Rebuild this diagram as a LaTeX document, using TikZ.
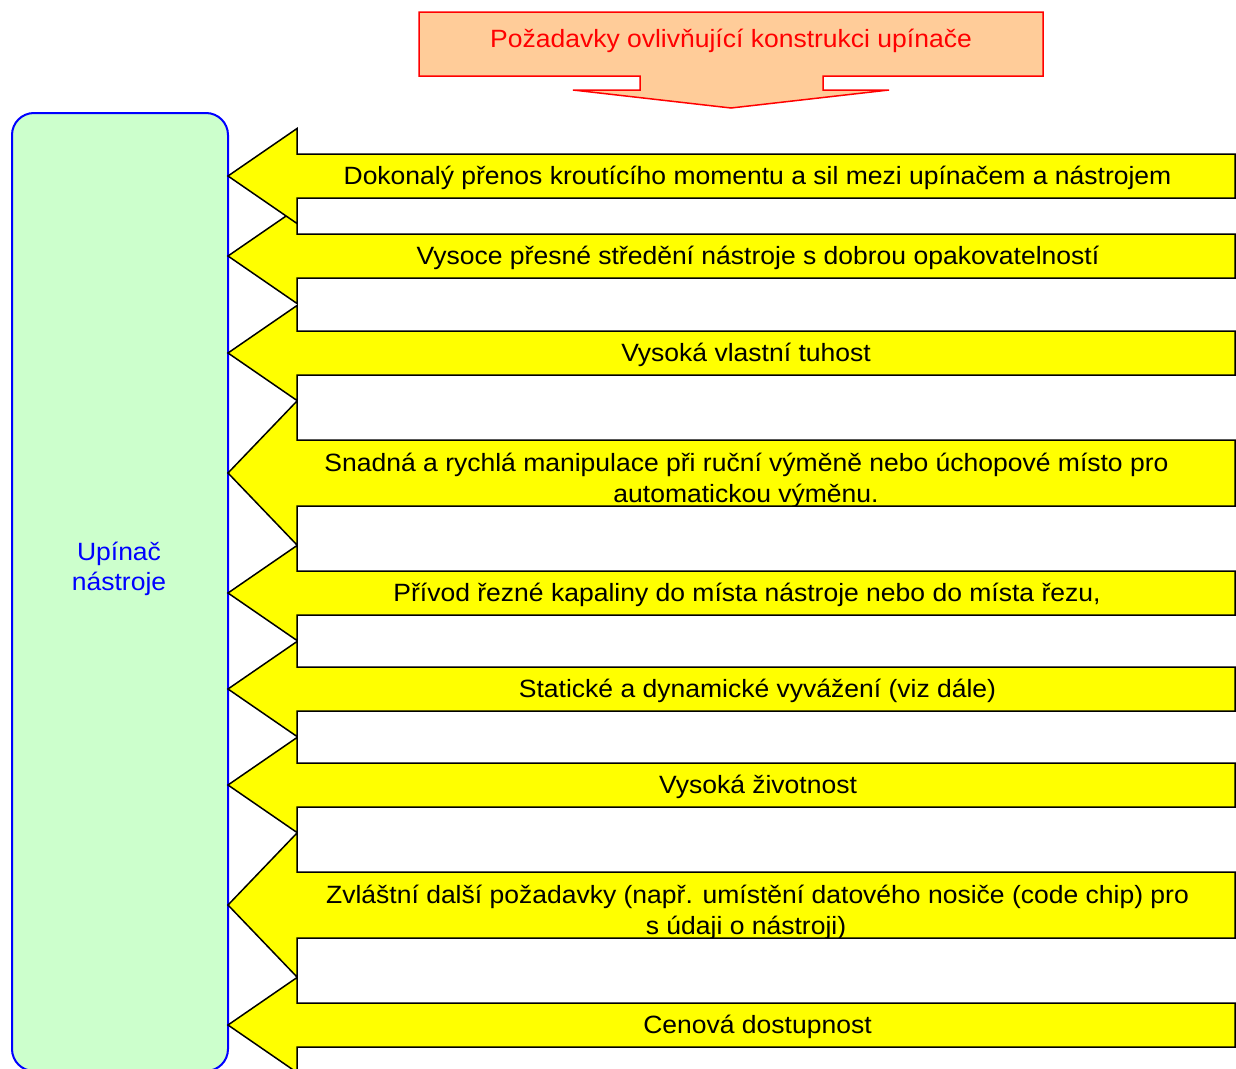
\documentclass[tikz,border=0pt]{standalone}
\usepackage{fontspec}
\setmainfont[FakeStretch=1.06]{Liberation Sans}
\definecolor{boxgreen}{HTML}{CCFFCC}
\definecolor{boxorange}{HTML}{FFCC99}
\definecolor{arrowyellow}{HTML}{FFFF00}
\begin{document}
\begin{tikzpicture}[x=1pt,y=-1pt,line join=miter]
\tikzset{
  blockarrow/.style={draw=black,fill=arrowyellow,line width=1.5pt},
  lbl/.style={font=\fontsize{25}{31}\selectfont,text=black,inner sep=0pt,anchor=base},
}
\useasboundingbox (0,0) rectangle (1236,1068);
\clip (0,0) rectangle (1236,1068);
\fill[white] (0,0) rectangle (1236,1068);

% top requirement arrow
\draw[draw=red,fill=boxorange,line width=1.5pt] (419,12) -- (1043,12) -- (1043,76) -- (823,76) -- (823,90) -- (889,90) -- (731,108) -- (573,90) -- (640,90) -- (640,76) -- (419,76) -- cycle;
\node[lbl,text=red] (req) at (731,47) {Požadavky ovlivňující konstrukci upínače};

% tool holder box
\node[draw=blue,fill=boxgreen,line width=2pt,rounded corners=22pt,minimum width=216pt,minimum height=958pt,anchor=north west,inner sep=0pt] (holder) at (11,112) {};
\node[font=\fontsize{25}{30}\selectfont,text=blue,align=center,inner sep=0pt] (holdertxt) at (119,568.5) {Upínač\\nástroje};

% block arrows (bottom first, so upper ones lie on top)
\foreach \c/\s/\h [count=\i] in {1025/22/47.5, 905/33/72, 785/22/47.5, 689/22/47.5, 593/22/47.5, 473/33/72, 353/22/47.5, 256/22/47.5, 176/22/47.5}{
  \draw[blockarrow] (1235,\c-\s) -- (297,\c-\s) -- (297,\c-\h) -- (228,\c) -- (297,\c+\h) -- (297,\c+\s) -- (1235,\c+\s) -- cycle;
}

\begin{scope}
\clip (297,1004) rectangle (1234,1046);
\node[lbl] (t9) at (757.5,1033.5) {Cenová dostupnost};
\end{scope}
\begin{scope}
\clip (297,873) rectangle (1234,937);
\node[lbl] (t8a) at (757.5,903.5) {Zvláštní další požadavky (např. umístění datového nosiče (code chip) pro};
\node[lbl] (t8b) at (746,934.5) {s údaji o nástroji)};
\end{scope}
\begin{scope}
\clip (297,764) rectangle (1234,806);
\node[lbl] (t7) at (758,793.5) {Vysoká životnost};
\end{scope}
\begin{scope}
\clip (297,668) rectangle (1234,710);
\node[lbl] (t6) at (757.5,697.5) {Statické a dynamické vyvážení (viz dále)};
\end{scope}
\begin{scope}
\clip (297,572) rectangle (1234,614);
\node[lbl] (t5) at (747,601.5) {Přívod řezné kapaliny do místa nástroje nebo do místa řezu,};
\end{scope}
\begin{scope}
\clip (297,441) rectangle (1234,505);
\node[lbl] (t4a) at (746.5,471.5) {Snadná a rychlá manipulace při ruční výměně nebo úchopové místo pro};
\node[lbl] (t4b) at (746,502.5) {automatickou výměnu.};
\end{scope}
\begin{scope}
\clip (297,332) rectangle (1234,374);
\node[lbl] (t3) at (746,361.5) {Vysoká vlastní tuhost};
\end{scope}
\begin{scope}
\clip (297,235) rectangle (1234,277);
\node[lbl] (t2) at (758,264.5) {Vysoce přesné středění nástroje s dobrou opakovatelností};
\end{scope}
\begin{scope}
\clip (297,155) rectangle (1234,197);
\node[lbl] (t1) at (757.5,184.5) {Dokonalý přenos kroutícího momentu a sil mezi upínačem a nástrojem};
\end{scope}
\end{tikzpicture}
\end{document}
